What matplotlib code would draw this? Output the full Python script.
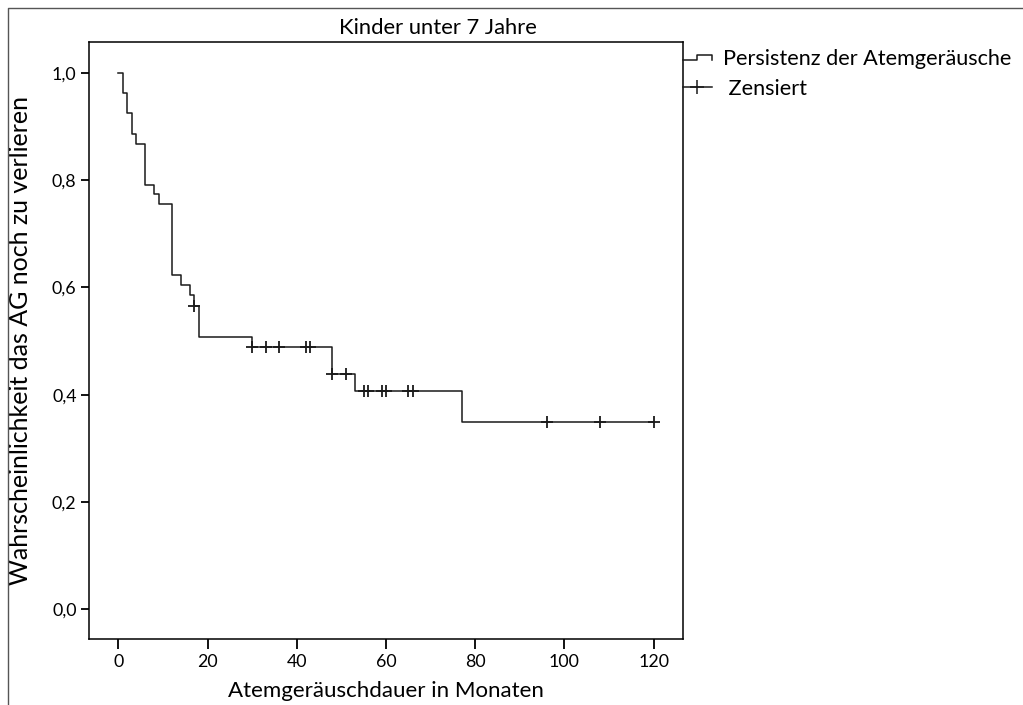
import numpy as np
import matplotlib
matplotlib.use("Agg")
import matplotlib.pyplot as plt
from matplotlib.lines import Line2D
from matplotlib.ticker import FuncFormatter

# -------------------------------
# Kaplan-Meier curve
step_times = [0, 1, 2, 3, 4, 6, 8, 9, 12, 14, 16, 17, 18, 30, 48, 53, 77, 120]
survival = [1.0, 0.962, 0.925, 0.887, 0.868, 0.792, 0.774, 0.755, 0.623,
            0.604, 0.585, 0.566, 0.508, 0.489, 0.439, 0.407, 0.349, 0.349]
censored_times = [17, 30, 33, 36, 42, 43, 48, 51, 55, 56, 59, 60, 65, 66,
                  96, 108, 120]

x_ticks = [0, 20, 40, 60, 80, 100, 120]
y_ticks = [0.0, 0.2, 0.4, 0.6, 0.8, 1.0]

title = "Kinder unter 7 Jahre"
x_label = "Atemgeräuschdauer in Monaten"
y_label = "Wahrscheinlichkeit das AG noch zu verlieren"
legend_labels = ["Persistenz der Atemgeräusche", " Zensiert"]
# -------------------------------

plt.rcParams['font.family'] = ['Lato', 'DejaVu Sans']
line_color = '#1a1a1a'


class StepHandler:
    # draws the little step symbol used for the survival line
    def legend_artist(self, legend, orig_handle, fontsize, handlebox):
        w, h = handlebox.width, handlebox.height
        x0, y0 = handlebox.xdescent, handlebox.ydescent
        lo, hi = y0 + h * 0.36, y0 + h * 0.66
        line = Line2D([x0, x0 + w / 2, x0 + w / 2, x0 + w, x0 + w],
                      [lo, lo, hi, hi, lo], color=line_color, lw=1.1,
                      transform=handlebox.get_transform())
        handlebox.add_artist(line)
        return line


fig = plt.figure(figsize=(10.23, 7.05), dpi=100)
ax = fig.add_axes([0.087, 0.0936, 0.5806, 0.8468])

# survival step line
ax.step(step_times, survival, where='post', color=line_color, lw=1.1)

# censor marks sit on the curve
idx = np.searchsorted(step_times, censored_times, side='right') - 1
cens_y = [survival[i] for i in idx]
ax.plot(censored_times, cens_y, linestyle='none', marker='+',
        markersize=8, markeredgewidth=1.3, color=line_color)

ax.set_xlim(-6.6, 126.6)
ax.set_ylim(-0.056, 1.058)
ax.set_xticks(x_ticks)
ax.set_yticks(y_ticks)
ax.yaxis.set_major_formatter(FuncFormatter(lambda v, p: f"{v:.1f}".replace('.', ',')))
ax.tick_params(axis='x', length=7, width=1.3, labelsize=12.8, pad=4)
ax.tick_params(axis='y', length=6, width=1.3, labelsize=12.8, pad=3)
for s in ax.spines.values():
    s.set_linewidth(1.1)

ax.set_xlabel(x_label, fontsize=16, labelpad=8)
ax.set_ylabel(y_label, fontsize=18, labelpad=14)
fig.text(438 / 1023, 1 - 28 / 705, title, fontsize=15.8, ha='center', va='center')

# legend outside the plot, to the right
h_step = Line2D([], [], color=line_color)
h_cens = Line2D([], [], color=line_color, marker='+', markersize=10,
                markeredgewidth=1.1, lw=1.1)
fig.legend([h_step, h_cens], legend_labels,
           handler_map={h_step: StepHandler()},
           loc='upper left', bbox_to_anchor=(683 / 1023, 1 - 49 / 705),
           frameon=False, fontsize=15.6, handlelength=1.33, handletextpad=0.5,
           borderpad=0, borderaxespad=0, labelspacing=0.45, numpoints=1)

# grey frame around the figure (top and left edges)
fig.add_artist(Line2D([8 / 1023, 8 / 1023, 1.0], [0.0, 1 - 8 / 705, 1 - 8 / 705],
                      color='#555555', lw=1.0, transform=fig.transFigure))

fig.savefig("out.png", dpi=100)
